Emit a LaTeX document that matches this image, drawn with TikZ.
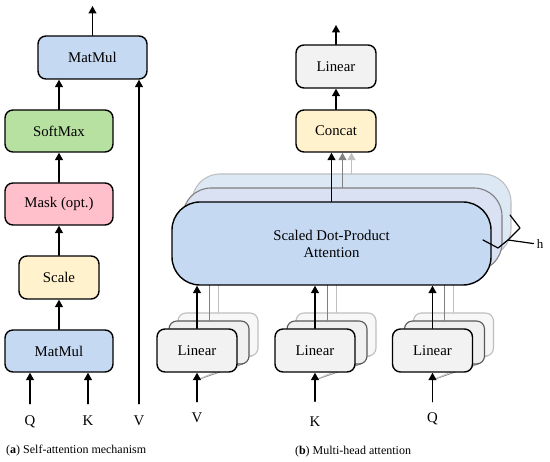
\documentclass[tikz,border=0pt]{standalone}
\usepackage{fontspec}
\setmainfont{Liberation Serif}
\usetikzlibrary{arrows.meta,calc}

\definecolor{mmblue}{HTML}{C6D9F3}
\definecolor{smgreen}{HTML}{B7E1A1}
\definecolor{mkpink}{HTML}{FFC0CB}
\definecolor{scyellow}{HTML}{FFF2CC}
\definecolor{lngray}{HTML}{F2F2F2}
\definecolor{layertwo}{HTML}{D9E1F2}
\definecolor{layerthree}{HTML}{DDE8F5}

\begin{document}
\begin{tikzpicture}[x=1pt, y=-1pt, line cap=round, line join=round,
  >={Triangle[length=7.5pt,width=8pt]},
  box/.style={draw, line width=1.4pt, rounded corners=8pt, minimum width=108pt,
    minimum height=42pt, inner sep=0pt, font=\fontsize{14.8}{17}\selectfont},
  linbox/.style={box, fill=lngray, minimum width=80pt, minimum height=43pt},
  backtwo/.style={box, line width=1.1pt, draw=black!65, fill=black!6, minimum width=80pt, minimum height=43pt},
  backthree/.style={box, line width=1.1pt, draw=black!25, fill=black!3, minimum width=80pt, minimum height=43pt},
  arr/.style={->, line width=1.3pt},
  lbl/.style={inner sep=0pt, text height=10pt, text depth=0pt, font=\fontsize{14.8}{17}\selectfont},
  captext/.style={inner sep=0pt, font=\fontsize{12}{14}\selectfont}]

  \useasboundingbox (0,0) rectangle (550,462);

  % (a) self-attention, bottom to top
  \node[box, fill=mmblue, minimum width=109pt, minimum height=43pt] (mmTop) at (92.5,57.5) {MatMul};
  \node[box, fill=smgreen] (softmax) at (59,131) {SoftMax};
  \node[box, fill=mkpink] (mask) at (59,204) {Mask (opt.)};
  \node[box, fill=scyellow, minimum width=80pt, minimum height=43pt] (scale) at (59,277.5) {Scale};
  \node[box, fill=mmblue] (mmBot) at (59,351) {MatMul};
  \coordinate (outA) at (92.5,6);

  \node[lbl] (qA) at (30,421) {Q};
  \node[lbl] (kA) at (88,421) {K};
  \node[lbl] (vA) at (139,421) {V};

  \draw[arr] (mmTop.north) -- (outA);
  \draw[arr] (softmax.north) -- (softmax.north |- mmTop.south);
  \draw[arr] (mask.north) -- (softmax.south);
  \draw[arr] (scale.north) -- (mask.south);
  \draw[arr] (mmBot.north) -- (scale.south);
  \draw[arr, shorten <=12pt] (qA.north) -- (qA.north |- mmBot.south);
  \draw[arr, shorten <=12pt] (kA.north) -- (kA.north |- mmBot.south);
  \draw[arr, shorten <=12pt] (vA.north) -- (vA.north |- mmTop.south);

  % (b) multi-head attention, top part
  \node[linbox] (linOut) at (336,66.5) {Linear};
  \node[box, fill=scyellow, minimum width=80pt] (concat) at (336,131) {Concat};
  \coordinate (outB) at (336,25);
  \draw[arr] (linOut.north) -- (outB);
  \draw[arr] (concat.north) -- (linOut.south);

  % Stacked attention heads
  \node[box, line width=1.1pt, draw=black!25, fill=layerthree, rounded corners=28pt,
    minimum width=319pt, minimum height=83pt] (sdpa3) at (351.5,215.5) {};
  \node[box, line width=1.1pt, draw=black!50, fill=layertwo, rounded corners=28pt,
    minimum width=319pt, minimum height=83pt] (sdpa2) at (342.5,229.5) {};
  \draw[arr, black!25] (sdpa3.north) -- (sdpa3.north |- concat.south);
  \draw[arr, black!50] (sdpa2.north) -- (sdpa2.north |- concat.south);

  % Input projections (split lines first, so the boxes cover them)
  \coordinate (vSplit) at (197,380);
  \coordinate (kSplit) at (315,380);
  \coordinate (qSplit) at (432.5,380);
  \draw[line width=0.8pt, black!45] (vSplit) -- (243,364);
  \draw[line width=0.8pt, black!25] (vSplit) -- (252,356);
  \draw[line width=0.8pt, black!45] (kSplit) -- (361,364);
  \draw[line width=0.8pt, black!25] (kSplit) -- (370,356);
  \draw[line width=0.8pt, black!45] (qSplit) -- (478.5,364);
  \draw[line width=0.8pt, black!25] (qSplit) -- (487.5,356);

  \node[backthree] (linV3) at (218,334.5) {};
  \node[backthree] (linK3) at (336,334.5) {};
  \node[backthree] (linQ3) at (453.5,334.5) {};
  \node[backtwo] (linV2) at (209,342.5) {};
  \node[backtwo] (linK2) at (327,342.5) {};
  \node[backtwo] (linQ2) at (444.5,342.5) {};

  \draw[line width=1pt, black!25] (linV3.north) -- (linV3.north |- sdpa3.south);
  \draw[line width=1pt, black!25] (linK3.north) -- (linK3.north |- sdpa3.south);
  \draw[line width=1pt, black!25] (linQ3.north) -- (linQ3.north |- sdpa3.south);
  \draw[line width=1pt, black!50] (linV2.north) -- (linV2.north |- sdpa2.south);
  \draw[line width=1pt, black!50] (linK2.north) -- (linK2.north |- sdpa2.south);
  \draw[line width=1pt, black!50] (linQ2.north) -- (linQ2.north |- sdpa2.south);

  \node[linbox] (linV) at (197,350.5) {Linear};
  \node[linbox] (linK) at (315,350.5) {Linear};
  \node[linbox] (linQ) at (432.5,350.5) {Linear};

  % Front head
  \node[box, fill=mmblue, rounded corners=28pt, minimum width=319pt, minimum height=83pt,
    align=center] (sdpa) at (331.5,243.5) {Scaled Dot-Product\\Attention};
  \draw[arr] (sdpa.north) -- (sdpa.north |- concat.south);
  \draw[arr] (linV.north) -- (linV.north |- sdpa.south);
  \draw[arr] (linK.north) -- (linK.north |- sdpa.south);
  \draw[arr] (linQ.north) -- (linQ.north |- sdpa.south);

  % Inputs V, K, Q
  \node[lbl] (vB) at (197,418) {V};
  \node[lbl] (kB) at (315,421.5) {K};
  \node[lbl] (qB) at (432.5,418) {Q};
  \draw[arr, shorten <=11pt] (vB.north) -- (linV.south);
  \draw[arr, shorten <=15pt] (kB.north) -- (linK.south);
  \draw[arr, shorten <=11pt] (qB.north) -- (linQ.south);

  % Brace for h heads
  \coordinate (braceTip) at (508,240);
  \node[lbl, font=\fontsize{13}{15}\selectfont] (hLbl) at (540,244) {h};
  \draw[line width=1.2pt] (510,215) -- (520,228) -- (braceTip) -- (498,248) -- (483,240);
  \draw[line width=1.2pt, shorten >=3pt] (braceTip) -- (hLbl.west);

  % Captions
  \node[captext, anchor=west] (capA) at (6,451) {(\textbf{a}) Self-attention mechanism};
  \node[captext] (capB) at (353,452) {(\textbf{b}) Multi-head attention};
\end{tikzpicture}
\end{document}
